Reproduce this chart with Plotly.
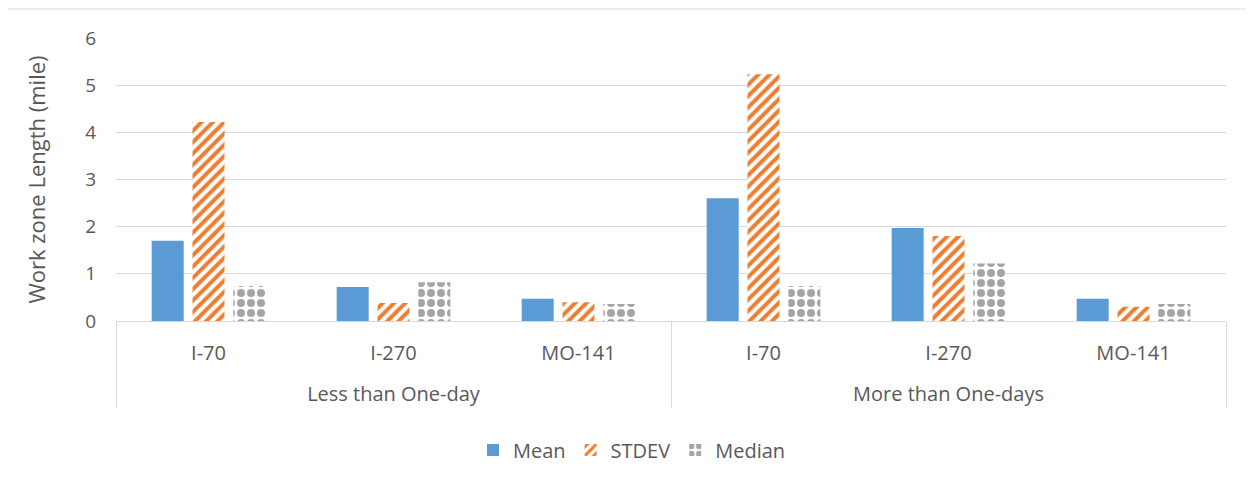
import plotly.graph_objects as go

# ---- data ----
groups = ["Less than One-day", "More than One-days"]
roads = ["I-70", "I-270", "MO-141"]
mean_vals = [1.70, 0.72, 0.47, 2.60, 1.97, 0.47]
stdev_vals = [4.22, 0.38, 0.40, 5.23, 1.80, 0.30]
median_vals = [0.74, 0.82, 0.36, 0.74, 1.22, 0.36]
y_ticks = [0, 1, 2, 3, 4, 5, 6]

# leading line break only spaces the outer category row further from the inner one
x_level1 = [" <br>" + g for g in groups for _ in roads]
x_level2 = [r for _ in groups for r in roads]
x_multi = [x_level1, x_level2]

FONT = "Open Sans"
TXT = "#595959"
GRID = "#D9D9D9"

fig = go.Figure()
fig.add_trace(go.Bar(
    name="Mean", x=x_multi, y=mean_vals,
    marker=dict(color="#5B9BD5", line=dict(width=0)),
))
fig.add_trace(go.Bar(
    name="STDEV", x=x_multi, y=stdev_vals,
    marker=dict(color="white", line=dict(width=0),
                pattern=dict(shape="/", fgcolor="#ED7D31", bgcolor="white",
                             size=8, solidity=0.5, fillmode="replace")),
))
fig.add_trace(go.Bar(
    name="Median", x=x_multi, y=median_vals,
    marker=dict(color="white", line=dict(width=0),
                pattern=dict(shape=".", fgcolor="#A5A5A5", bgcolor="white",
                             size=10, solidity=0.5, fillmode="replace")),
))

# page body adds an 8px margin; work in reference pixels and offset
OFF = 8
W, H = 1253 - OFF, 483 - OFF
plot_left, plot_right, plot_top, plot_bottom = 116, 1226, 38, 321
ml = plot_left - OFF
mt = plot_top - OFF
mr = W - (plot_right - OFF)
mb = H - (plot_bottom - OFF)
pw, ph = W - ml - mr, H - mt - mb

def px2paper_x(px):
    return (px - plot_left) / pw

def px2paper_y(py):
    return (plot_bottom - py) / ph

fig.update_layout(
    width=W, height=H,
    margin=dict(l=ml, r=mr, t=mt, b=mb),
    paper_bgcolor="white", plot_bgcolor="white",
    barmode="group", bargap=0.338, bargroupgap=0.216,
    font=dict(family=FONT, color=TXT, size=18),
    showlegend=True,
    legend=dict(orientation="h", x=px2paper_x(632), xanchor="center",
                y=px2paper_y(450), yanchor="middle",
                font=dict(family=FONT, size=20, color=TXT),
                itemwidth=30, tracegroupgap=0, bgcolor="rgba(0,0,0,0)"),
    xaxis=dict(
        type="multicategory",
        showline=True, linecolor=GRID, linewidth=1,
        showgrid=False, zeroline=False,
        ticks="", ticklabelstandoff=14,
        showdividers=True, dividercolor=GRID, dividerwidth=1,
        tickfont=dict(family=FONT, size=20, color=TXT),
    ),
    yaxis=dict(
        range=[0, 6], tickvals=y_ticks, ticktext=[str(v) for v in y_ticks],
        showgrid=True, gridcolor=GRID, gridwidth=1,
        zeroline=False, showline=False,
        ticks="outside", ticklen=15, tickcolor="rgba(0,0,0,0)",
        tickfont=dict(family=FONT, size=19, color=TXT),
        title=dict(text="Work zone Length (mile)", standoff=33,
                   font=dict(family=FONT, size=22, color=TXT)),
    ),
    shapes=[dict(type="rect", xref="paper", yref="paper",
                 x0=px2paper_x(7), x1=px2paper_x(1262),
                 y0=px2paper_y(492), y1=px2paper_y(9),
                 line=dict(color=GRID, width=1), fillcolor="rgba(0,0,0,0)",
                 layer="below")],
)

fig.write_html("out.html")
